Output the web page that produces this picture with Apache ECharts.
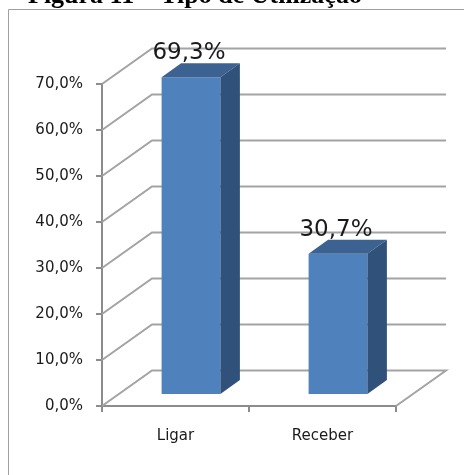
<!DOCTYPE html>
<html><head><meta charset="utf-8">
<style>html,body{margin:0;padding:0;background:#fff}#c{width:464px;height:475px}</style>
<script src="https://cdn.jsdelivr.net/npm/echarts@6/dist/echarts.min.js"></script>
</head><body><div id="c"></div>
<script>
const categories = ['Ligar', 'Receber'];
const values = [69.3, 30.7];
const valueLabels = ['69,3%', '30,7%'];
const gridTicks = [0, 10, 20, 30, 40, 50, 60, 70];
const titleText = 'Figura 11 – Tipo de Utilização';

const wallDx = 50, wallDy = -35.5;   // depth of the pseudo-3D chart box
const barDx = 15.5, barDy = -12;     // front face of the bars relative to the axis plane
const sideDx = 19.5, sideDy = -14;   // depth of each bar
const gridColor = '#a3a3a3';

const chart = echarts.init(document.getElementById('c'), null, {renderer: 'canvas'});

function renderWall(params, api) {
  const v = api.value(0);
  const y = api.coord([0, v])[1];
  const x0 = params.coordSys.x, x1 = x0 + params.coordSys.width;
  const pts = v === 0
    ? [[x1, y], [x1 + wallDx, y + wallDy], [x0 + wallDx, y + wallDy], [x0, y]]
    : [[x0, y], [x0 + wallDx, y + wallDy], [x1 + wallDx, y + wallDy]];
  return {type: 'polyline', shape: {points: pts},
    style: {stroke: gridColor, lineWidth: 2, fill: null}, silent: true};
}

function renderBar(params, api) {
  const cat = api.value(0), val = api.value(1);
  const top = api.coord([cat, val]);
  const base = api.coord([cat, 0]);
  const w = api.size([1, 0])[0] * 0.4;
  const l = top[0] - w / 2 + barDx, r = l + w;
  const b = base[1] + barDy, t = b - (base[1] - top[1]) * 0.994;
  return {type: 'group', children: [
    {type: 'rect', shape: {x: l, y: t, width: w, height: b - t},
      style: {fill: '#4f81bd'}},
    {type: 'polygon', shape: {points: [[l, t], [r, t], [r + sideDx, t + sideDy], [l + sideDx, t + sideDy]]},
      style: {fill: '#3c6291'}},
    {type: 'polygon', shape: {points: [[r, t], [r + sideDx, t + sideDy], [r + sideDx, b + sideDy], [r, b]]},
      style: {fill: '#30527a'}},
    {type: 'text', style: {text: valueLabels[params.dataIndex], x: (l + r) / 2 - 2, y: t + sideDy - 10,
      align: 'center', verticalAlign: 'middle', fill: '#1a1a1a',
      font: '23px "DejaVu Sans"'}, z2: 20}
  ]};
}

chart.setOption({
  animation: false,
  backgroundColor: '#ffffff',
  title: {text: titleText, left: 28, top: -17, padding: 0,
    textStyle: {fontFamily: 'Liberation Serif', fontWeight: 'bold', fontSize: 26, color: '#000'}},
  graphic: [{type: 'polyline', shape: {points: [[8.5, 475], [8.5, 9.5], [464, 9.5]]},
    style: {stroke: '#a0a0a0', lineWidth: 1, fill: null}, silent: true}],
  grid: {left: 102, top: 84, width: 294, height: 322},
  xAxis: {type: 'category', data: categories,
    axisLine: {lineStyle: {color: '#8c8c8c', width: 2}},
    axisTick: {show: true, alignWithLabel: false, length: 6, lineStyle: {color: '#8c8c8c', width: 2}},
    axisLabel: {margin: 23, color: '#1a1a1a', fontFamily: 'DejaVu Sans', fontSize: 15}},
  yAxis: {type: 'value', min: 0, max: 70, interval: 10,
    splitLine: {show: false},
    axisLine: {show: true, lineStyle: {color: '#8c8c8c', width: 2}},
    axisTick: {show: true, length: 6, lineStyle: {color: '#8c8c8c', width: 2}},
    axisLabel: {margin: 19, color: '#1a1a1a', fontFamily: 'DejaVu Sans', fontSize: 15, padding: [3, 0, 0, 0],
      formatter: v => v.toFixed(1).replace('.', ',') + '%'}},
  series: [
    {type: 'custom', name: 'grade', coordinateSystem: 'cartesian2d', z: 1,
      data: gridTicks.map(v => [v]), encode: {y: 0}, renderItem: renderWall, silent: true},
    {type: 'custom', name: 'Tipo', coordinateSystem: 'cartesian2d', z: 5,
      data: values.map((v, i) => [i, v]), encode: {x: 0, y: 1}, renderItem: renderBar, clip: false}
  ]
});
</script></body></html>
